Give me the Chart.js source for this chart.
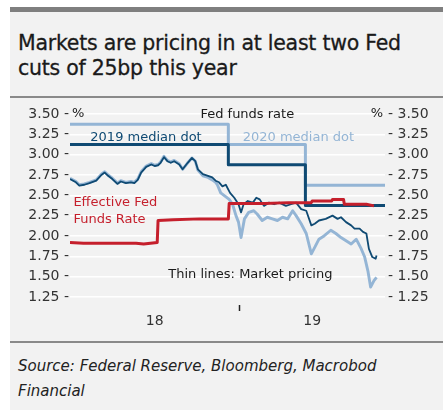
<!DOCTYPE html>
<html>
<head>
<meta charset="utf-8">
<script src="https://cdn.jsdelivr.net/npm/chart.js@4.4.1/dist/chart.umd.min.js"></script>
<style>
  html, body { margin: 0; padding: 0; background: #ffffff; }
  body { width: 443px; height: 410px; position: relative; overflow: hidden; }
  #panel { position: absolute; left: 10px; top: 7px; width: 433px; height: 403px;
           background: #f2f2f2; border-top: 5px solid #7f7f7f; box-sizing: border-box; }
  #title { position: absolute; left: 18px; top: 31px; font-family: "DejaVu Sans", sans-serif;
           font-size: 20.5px; line-height: 25px; color: #1a1a1a; white-space: nowrap;
           letter-spacing: -0.25px; -webkit-text-stroke: 0.3px #1a1a1a; }
  .sep { position: absolute; left: 10px; width: 433px; height: 2px; background: #8a8a8a; }
  #source { position: absolute; left: 18px; top: 354px; font-family: "DejaVu Sans", sans-serif;
            font-style: italic; font-size: 15px; line-height: 25px; color: #222; white-space: nowrap; }
  #chart { position: absolute; left: 0; top: 98px; }
</style>
</head>
<body>
<div id="panel"></div>
<div id="title">Markets are pricing in at least two Fed<br>cuts of 25bp this year</div>
<div class="sep" style="top:96px"></div>
<div class="sep" style="top:341px"></div>
<div id="source">Source: Federal Reserve, Bloomberg, Macrobod<br>Financial</div>
<canvas id="chart" width="443" height="243"></canvas>
<script>
// ---------------- DATA ----------------
const axisStart = "2018-06-15";
const axisEnd = "2019-06-22";
const yearBoundary = "2019-01-01";
const yearLabels = ["18", "19"];
const yTicks = [1.25, 1.50, 1.75, 2.00, 2.25, 2.50, 2.75, 3.00, 3.25, 3.50];

// Market pricing for end-2019 (dark thin line)
const market2019Dates = [
  "2018-06-15","2018-06-22","2018-06-26","2018-07-02","2018-07-08","2018-07-16","2018-07-22",
  "2018-07-26","2018-07-30","2018-08-04","2018-08-10","2018-08-14","2018-08-20","2018-08-26",
  "2018-08-30","2018-09-03","2018-09-07","2018-09-13","2018-09-19","2018-09-23","2018-09-27",
  "2018-09-30","2018-10-04","2018-10-08","2018-10-12","2018-10-16","2018-10-22","2018-10-26",
  "2018-11-01","2018-11-06","2018-11-10","2018-11-13","2018-11-19","2018-11-25","2018-11-30",
  "2018-12-04","2018-12-08","2018-12-12","2018-12-16","2018-12-21","2018-12-26","2018-12-31",
  "2019-01-03","2019-01-06","2019-01-11","2019-01-17","2019-01-21","2019-01-25","2019-01-30",
  "2019-02-05","2019-02-11","2019-02-17","2019-02-25","2019-03-03","2019-03-09","2019-03-15",
  "2019-03-21","2019-03-27","2019-03-31","2019-04-05","2019-04-13","2019-04-21","2019-04-27",
  "2019-05-01","2019-05-07","2019-05-13","2019-05-17","2019-05-23","2019-05-27","2019-05-31",
  "2019-06-03","2019-06-07","2019-06-11","2019-06-12"
];
const market2019 = [
  2.70,2.66,2.62,2.63,2.65,2.68,2.75,
  2.78,2.74,2.70,2.64,2.67,2.65,2.66,
  2.65,2.69,2.78,2.85,2.88,2.86,2.87,
  2.90,2.97,2.92,2.90,2.92,2.88,2.82,
  2.90,2.96,2.92,2.82,2.76,2.74,2.72,
  2.68,2.66,2.61,2.63,2.53,2.47,2.39,
  2.29,2.39,2.43,2.41,2.47,2.45,2.37,
  2.41,2.39,2.41,2.37,2.39,2.41,2.33,
  2.31,2.13,2.15,2.19,2.21,2.25,2.21,
  2.23,2.17,2.13,2.09,2.09,2.05,2.03,
  1.84,1.74,1.72,1.76
];

// Market pricing for end-2020 (light thin line)
const market2020Dates = [
  "2018-06-15","2018-06-22","2018-06-26","2018-07-02","2018-07-08","2018-07-16","2018-07-22",
  "2018-07-26","2018-07-30","2018-08-04","2018-08-10","2018-08-14","2018-08-20","2018-08-26",
  "2018-08-30","2018-09-03","2018-09-07","2018-09-13","2018-09-19","2018-09-23","2018-09-27",
  "2018-09-30","2018-10-04","2018-10-08","2018-10-12","2018-10-16","2018-10-22","2018-10-26",
  "2018-11-01","2018-11-06","2018-11-10","2018-11-13","2018-11-19","2018-11-25","2018-11-30",
  "2018-12-04","2018-12-06","2018-12-10","2018-12-15","2018-12-20","2018-12-24","2018-12-28",
  "2018-12-31","2019-01-03","2019-01-07","2019-01-12","2019-01-18","2019-01-22","2019-01-28",
  "2019-02-03","2019-02-09","2019-02-15","2019-02-21","2019-02-27","2019-03-05","2019-03-09",
  "2019-03-15","2019-03-21","2019-03-27","2019-03-31","2019-04-05","2019-04-11","2019-04-19",
  "2019-04-25","2019-05-01","2019-05-07","2019-05-13","2019-05-19","2019-05-25","2019-05-29",
  "2019-06-02","2019-06-05","2019-06-09","2019-06-12"
];
const market2020 = [
  2.71,2.67,2.63,2.64,2.66,2.69,2.76,
  2.79,2.75,2.71,2.65,2.68,2.66,2.67,
  2.66,2.70,2.79,2.86,2.89,2.87,2.88,
  2.91,2.98,2.93,2.91,2.93,2.89,2.82,
  2.90,2.96,2.92,2.81,2.74,2.72,2.69,
  2.66,2.63,2.53,2.49,2.45,2.39,2.25,
  2.17,1.98,2.21,2.29,2.31,2.27,2.19,
  2.23,2.21,2.19,2.23,2.21,2.31,2.25,
  2.15,2.03,1.78,1.86,1.96,2.00,2.07,
  2.03,1.98,1.94,1.90,1.96,1.84,1.74,
  1.56,1.37,1.45,1.49
];

// Effective Fed Funds Rate
const effrDates = [
  "2018-06-15","2018-07-01","2018-08-15","2018-09-01","2018-09-10","2018-09-26","2018-09-27",
  "2018-10-15","2018-11-15","2018-12-19","2018-12-20","2019-01-31","2019-02-28","2019-03-27",
  "2019-03-28","2019-04-20","2019-04-21","2019-05-04","2019-05-05","2019-05-31","2019-06-09"
];
const effrValues = [
  1.92,1.91,1.91,1.91,1.90,1.92,2.19,
  2.20,2.21,2.21,2.40,2.40,2.41,2.41,
  2.43,2.43,2.45,2.45,2.39,2.39,2.37
];

// FOMC median dots
const dotDates = ["2018-06-15","2018-12-19","2018-12-19","2019-03-20","2019-03-20","2019-06-22"];
const dot2019 = [3.125,3.125,2.875,2.875,2.375,2.375];
const dot2020 = [3.375,3.375,3.125,3.125,2.625,2.625];

// --------------- helpers ---------------
const DAY = 864e5;
function dayOf(s) {
  const [y, m, d] = s.split("-").map(Number);
  const [y0, m0, d0] = axisStart.split("-").map(Number);
  return (Date.UTC(y, m - 1, d) - Date.UTC(y0, m0 - 1, d0)) / DAY;
}
function pts(dates, vals) { return dates.map((d, i) => ({ x: dayOf(d), y: vals[i] })); }

const xMin = dayOf(axisStart), xMax = dayOf(axisEnd), xB = dayOf(yearBoundary);
const xTickVals = [(xMin + xB) / 2, xB, (xB + xMax) / 2];

const NAVY = "#0f4a73", LIGHT = "#94b5d5", RED = "#c51f2c";

const annotations = [
  { text: "Fed funds rate", date: "2018-11-16", y: 3.49, color: "#1a1a1a" },
  { text: "2019 median dot", date: "2018-07-09", y: 3.205, color: NAVY },
  { text: "2020 median dot", date: "2019-01-05", y: 3.215, color: LIGHT },
  { text: "Effective Fed", date: "2018-06-19", y: 2.41, color: RED },
  { text: "Funds Rate", date: "2018-06-19", y: 2.205, color: RED },
  { text: "Thin lines: Market pricing", date: "2018-10-09", y: 1.52, color: "#1a1a1a" }
];

const textPlugin = {
  id: "texts",
  afterDatasetsDraw(chart) {
    const { ctx, chartArea } = chart;
    const xs = chart.scales.x, ys = chart.scales.y;
    ctx.save();
    ctx.font = "13px 'DejaVu Sans'";
    ctx.textBaseline = "middle";
    ctx.textAlign = "left";
    annotations.forEach(a => {
      ctx.fillStyle = a.color;
      ctx.fillText(a.text, xs.getPixelForValue(dayOf(a.date)), ys.getPixelForValue(a.y));
    });
    ctx.fillStyle = "#1a1a1a";
    const yp = ys.getPixelForValue(3.5);
    ctx.fillText("%", chartArea.left + 2, yp);
    ctx.textAlign = "right";
    ctx.fillText("%", chartArea.right - 2, yp);
    ctx.restore();
  }
};

const tickFont = { family: "DejaVu Sans", size: 14 };

new Chart(document.getElementById("chart"), {
  type: "line",
  data: {
    datasets: [
      { label: "EFFR", data: pts(effrDates, effrValues), borderColor: RED, borderWidth: 3, order: 0 },
      { label: "2019 median dot", data: pts(dotDates, dot2019), borderColor: NAVY, borderWidth: 3, order: 1 },
      { label: "2020 median dot", data: pts(dotDates, dot2020), borderColor: LIGHT, borderWidth: 3, order: 2 },
      { label: "Market 2019", data: pts(market2019Dates, market2019), borderColor: NAVY, borderWidth: 1.8, order: 3 },
      { label: "Market 2020", data: pts(market2020Dates, market2020), borderColor: LIGHT, borderWidth: 2.9, order: 4 }
    ]
  },
  options: {
    responsive: false,
    animation: false,
    devicePixelRatio: 1,
    parsing: false,
    elements: { point: { radius: 0 }, line: { tension: 0, borderJoinStyle: "round" } },
    plugins: { legend: { display: false }, tooltip: { enabled: false } },
    layout: { padding: { top: 12, bottom: 0, left: 0, right: 0 } },
    scales: {
      x: {
        type: "linear", min: xMin, max: xMax,
        border: { display: false },
        grid: {
          drawOnChartArea: false, drawTicks: true, tickLength: 6, tickWidth: 1.5,
          tickColor: c => (c.tick && Math.abs(c.tick.value - xB) < 0.01) ? "#222" : "rgba(0,0,0,0)"
        },
        afterBuildTicks: s => { s.ticks = xTickVals.map(v => ({ value: v })); },
        afterFit: s => { s.height = 36; },
        ticks: {
          autoSkip: false, maxRotation: 0, padding: 2, color: "#333", font: tickFont,
          callback: v => Math.abs(v - xB) < 0.01 ? "" : (v < xB ? yearLabels[0] : yearLabels[1])
        }
      },
      y: {
        position: "left", min: 1.15, max: 3.55,
        border: { display: false },
        grid: { color: "#ffffff", lineWidth: 1.5, drawTicks: false },
        afterBuildTicks: s => { s.ticks = yTicks.map(v => ({ value: v })); },
        afterFit: s => { s.width = 70; },
        ticks: { padding: 1, color: "#333", font: tickFont, callback: v => v.toFixed(2) + " -" }
      },
      y2: {
        position: "right", min: 1.15, max: 3.55, display: true,
        border: { display: false },
        grid: { display: false, drawTicks: false },
        afterBuildTicks: s => { s.ticks = yTicks.map(v => ({ value: v })); },
        afterFit: s => { s.width = 58; },
        ticks: { padding: 3, color: "#333", font: tickFont, callback: v => "- " + v.toFixed(2) }
      }
    }
  },
  plugins: [textPlugin]
});
</script>
</body>
</html>
